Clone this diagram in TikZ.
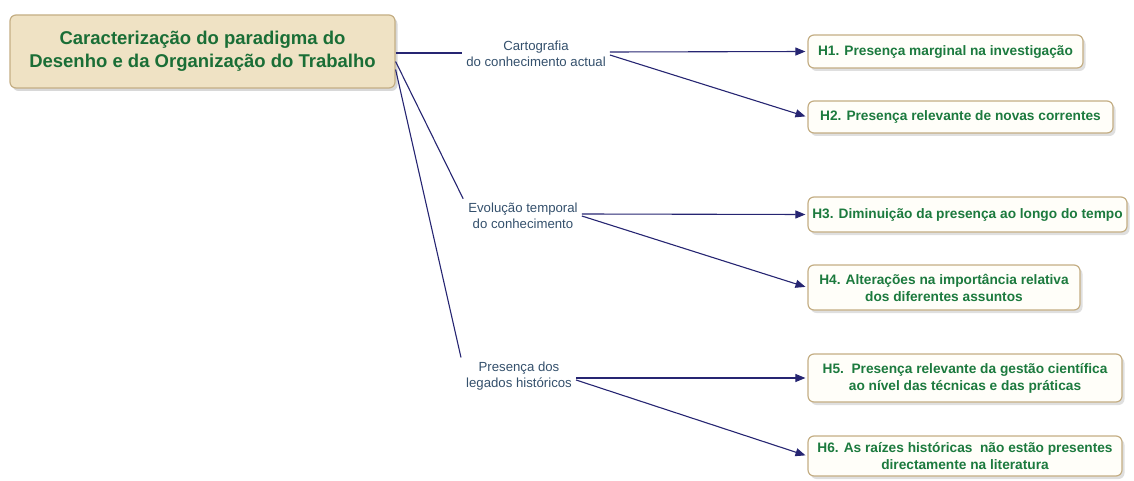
\documentclass[tikz,border=0pt]{standalone}
\usepackage{fontspec}
\setmainfont{Liberation Sans}
\usetikzlibrary{shadows,arrows.meta}
\definecolor{tanfill}{HTML}{EFE2C4}
\definecolor{tanline}{HTML}{C4AE84}
\definecolor{boxfill}{HTML}{FFFEF9}
\definecolor{greentext}{HTML}{1C7A3E}
\definecolor{rootgreen}{HTML}{1A6E36}
\definecolor{navy}{HTML}{2D2B86}
\definecolor{labeltext}{HTML}{34506C}
\tikzset{
  rootbox/.style={draw=tanline, line width=1.2pt, fill=tanfill, rounded corners=6pt,
    minimum width=385pt, minimum height=73pt, align=center, inner sep=0pt,
    font=\fontsize{18.5}{23}\selectfont\bfseries, text=rootgreen,
    drop shadow={shadow xshift=2.5pt, shadow yshift=-3pt, fill=black!30}},
  hbox/.style={draw=tanline, line width=1.2pt, fill=boxfill, rounded corners=6pt,
    align=center, inner sep=0pt,
    font=\fontsize{13.7}{17}\selectfont\bfseries, text=greentext,
    drop shadow={shadow xshift=2.5pt, shadow yshift=-3pt, fill=black!25}},
  branch/.style={align=center, inner sep=4pt, text=labeltext,
    font=\fontsize{13.2}{16.5}\selectfont},
  link/.style={draw=navy!85!black, line width=1.1pt},
  arrowlink/.style={link, -{Triangle[length=10pt, width=8pt]}, shorten >=2pt}
}
\begin{document}
\begin{tikzpicture}[x=1pt, y=-1pt]
\useasboundingbox (0,0) rectangle (1134,481);

% root concept
\node[rootbox] (root) at (202.5,51.5)
  {Caracterização do paradigma do\\Desenho e da Organização do Trabalho};

% intermediate dimensions
\node[branch] (c1) at (536,54) {Cartografia\\do conhecimento actual};
\node[branch] (c2) at (523,216) {Evolução temporal\\do conhecimento};
\node[branch] (c3) at (519,376) {Presença dos\\legados históricos};

% hypotheses
\node[hbox, minimum width=275pt, minimum height=33pt] (h1) at (945.5,51.5)
  {H1. Presença marginal na investigação};
\node[hbox, minimum width=305pt, minimum height=32pt] (h2) at (960.5,117)
  {H2. Presença relevante de novas correntes};
\node[hbox, minimum width=319pt, minimum height=35pt] (h3) at (967.5,214.5)
  {H3. Diminuição da presença ao longo do tempo};
\node[hbox, minimum width=272pt, minimum height=45pt] (h4) at (944,287.5)
  {H4. Alterações na importância relativa\\dos diferentes assuntos};
\node[hbox, minimum width=314pt, minimum height=48pt] (h5) at (965,378)
  {H5.\ \ Presença relevante da gestão científica\\ao nível das técnicas e das práticas};
\node[hbox, minimum width=314pt, minimum height=40pt] (h6) at (965,456)
  {H6. As raízes históricas\ \ não estão presentes\\directamente na literatura};

% root to dimensions
\draw[link] ([yshift=-1.5pt]root.east) -- (c1.west |- 0,53);
\draw[link] ([yshift=-10pt]root.east) -- ([xshift=-1pt]c2.north west);
\draw[link] ([yshift=-18pt]root.east) -- ([xshift=-1pt]c3.north west);

% dimensions to hypotheses
\draw[arrowlink] (c1.east |- 0,52) -- (h1.west);
\draw[arrowlink] (c1.east |- 0,55) -- (h2.west);
\draw[arrowlink] (c2.east |- 0,214) -- (h3.west);
\draw[arrowlink] (c2.east |- 0,216) -- (h4.west);
\draw[arrowlink] (c3.east |- 0,378) -- (h5.west);
\draw[arrowlink] (c3.east |- 0,380) -- (h6.west);
\end{tikzpicture}
\end{document}
